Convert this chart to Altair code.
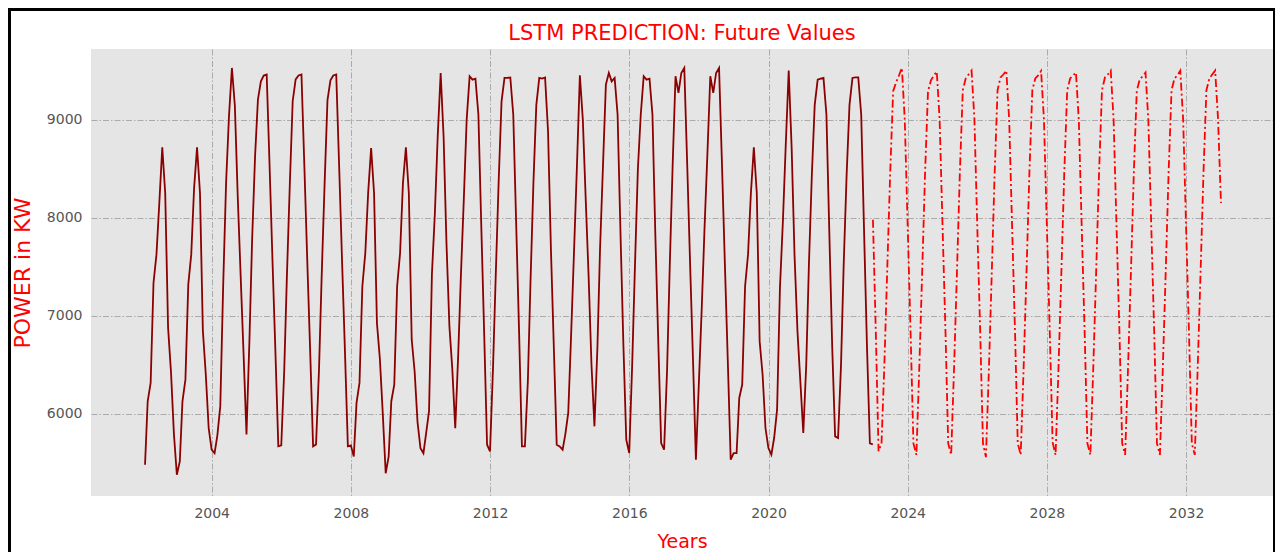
import altair as alt
import pandas as pd

# ---------------- data ----------------
# Historical monthly power values, Jan..Dec of each year
hist_2002 = [5483, 6129, 6316, 7335, 7624, 8150, 8718, 8250, 6880, 6420, 5800, 5381]
hist_2003 = [5517, 6129, 6350, 7318, 7624, 8300, 8718, 8250, 6850, 6400, 5857, 5637]
hist_2004 = [5600, 5780, 6080, 7300, 8360, 9030, 9527, 9140, 8220, 7400, 6620, 5790]
hist_2005 = [6756, 7776, 8626, 9204, 9391, 9449, 9459, 8510, 7560, 6620, 5670, 5680]
hist_2006 = [6440, 7400, 8350, 9190, 9410, 9450, 9460, 8510, 7560, 6620, 5670, 5690]
hist_2007 = [6450, 7400, 8350, 9200, 9400, 9450, 9460, 8510, 7560, 6620, 5670, 5680]
hist_2008 = [5566, 6113, 6317, 7300, 7640, 8255, 8711, 8252, 6929, 6560, 6011, 5396]
hist_2009 = [5566, 6130, 6300, 7300, 7640, 8350, 8718, 8250, 6760, 6430, 5920, 5650]
hist_2010 = [5600, 5800, 6030, 7420, 8040, 8830, 9476, 8820, 7740, 6890, 6460, 5855]
hist_2011 = [6600, 7400, 8190, 9000, 9442, 9408, 9418, 9050, 7930, 6810, 5687, 5619]
hist_2012 = [6458, 7410, 8378, 9187, 9425, 9425, 9430, 9050, 7960, 6840, 5670, 5670]
hist_2013 = [6330, 7350, 8370, 9150, 9425, 9418, 9430, 8880, 7690, 6670, 5687, 5670]
hist_2014 = [5636, 5790, 6010, 6800, 7665, 8520, 9452, 9000, 8200, 7400, 6500, 5874]
hist_2015 = [6670, 7690, 8540, 9357, 9476, 9390, 9425, 9050, 7860, 6700, 5738, 5602]
hist_2016 = [6500, 7500, 8500, 9050, 9442, 9408, 9418, 9050, 7830, 6740, 5704, 5636]
hist_2017 = [6435, 7490, 8540, 9442, 9272, 9476, 9527, 8530, 7530, 6530, 5534, 6315]
hist_2018 = [7100, 7880, 8660, 9442, 9272, 9476, 9527, 8530, 7530, 6530, 5534, 5602]
hist_2019 = [5602, 6163, 6300, 7300, 7624, 8250, 8718, 8250, 6740, 6400, 5857, 5653]
hist_2020 = [5585, 5755, 6044, 7284, 7964, 8745, 9500, 8710, 7620, 6842, 6333, 5806]
hist_2021 = [6500, 7520, 8440, 9150, 9408, 9418, 9425, 9050, 7860, 6670, 5772, 5755]
hist_2022 = [6500, 7520, 8440, 9150, 9425, 9430, 9430, 9050, 7860, 6670, 5700, 5690]

# LSTM future predictions, Jan..Dec of each year (+ Jan 2033)
pred_2023 = [7980, 6800, 5620, 5700, 6500, 7500, 8450, 9290, 9380, 9450, 9527, 9000]
pred_2024 = [7900, 6800, 5700, 5583, 6450, 7450, 8450, 9290, 9400, 9450, 9490, 9000]
pred_2025 = [7900, 6820, 5700, 5583, 6450, 7450, 8450, 9300, 9420, 9460, 9500, 9010]
pred_2026 = [7880, 6800, 5700, 5560, 6420, 7430, 8440, 9300, 9430, 9460, 9500, 9000]
pred_2027 = [7900, 6810, 5700, 5583, 6450, 7450, 8450, 9300, 9420, 9450, 9495, 9000]
pred_2028 = [7900, 6800, 5710, 5583, 6450, 7450, 8450, 9300, 9420, 9450, 9480, 8990]
pred_2029 = [7880, 6800, 5700, 5583, 6450, 7450, 8450, 9300, 9430, 9460, 9500, 9000]
pred_2030 = [7900, 6810, 5700, 5583, 6450, 7450, 8450, 9290, 9410, 9440, 9480, 8990]
pred_2031 = [7890, 6800, 5700, 5583, 6450, 7450, 8450, 9300, 9420, 9450, 9500, 9000]
pred_2032 = [7900, 6800, 5700, 5583, 6450, 7450, 8450, 9300, 9420, 9460, 9500, 9010]
pred_2033 = [8150]

x_tick_years = [2004, 2008, 2012, 2016, 2020, 2024, 2028, 2032]
y_tick_values = [6000, 7000, 8000, 9000]

title_text = "LSTM PREDICTION: Future Values"
x_title = "Years"
y_title = "POWER in KW"

# ---------------- tables ----------------
hist_values = (hist_2002 + hist_2003 + hist_2004 + hist_2005 + hist_2006 + hist_2007 +
               hist_2008 + hist_2009 + hist_2010 + hist_2011 + hist_2012 + hist_2013 +
               hist_2014 + hist_2015 + hist_2016 + hist_2017 + hist_2018 + hist_2019 +
               hist_2020 + hist_2021 + hist_2022)
pred_values = (pred_2023 + pred_2024 + pred_2025 + pred_2026 + pred_2027 + pred_2028 +
               pred_2029 + pred_2030 + pred_2031 + pred_2032 + pred_2033)

hist_dates = pd.date_range("2002-01-31", periods=len(hist_values), freq="ME").strftime("%Y-%m-%d")
pred_dates = pd.date_range("2023-01-01", periods=len(pred_values), freq="MS").strftime("%Y-%m-%d")

hist_df = pd.DataFrame({"date": list(hist_dates), "power": hist_values})
pred_df = pd.DataFrame({"date": list(pred_dates), "power": pred_values})

FONT = "DejaVu Sans"
W, H = 1182, 447

x_scale = alt.Scale(type="utc",
                    domain=[alt.DateTime(year=2000, month=7, date=13, utc=True),
                            alt.DateTime(year=2034, month=7, date=1, utc=True)])
y_scale = alt.Scale(domain=[5164, 9720], nice=False, zero=False)

x_axis = alt.Axis(values=[alt.DateTime(year=y, utc=True) for y in x_tick_years],
                  format="%Y", formatType="time", labelPadding=10,
                  title=x_title, titleColor="red", titleFont=FONT, titleFontSize=19,
                  titleFontWeight="normal", titleX=W / 2, titleY=51,
                  titleBaseline="alphabetic", titleAlign="center")
y_axis = alt.Axis(values=y_tick_values, format="d", labelPadding=9,
                  title=y_title, titleColor="red", titleFont=FONT, titleFontSize=22,
                  titleFontWeight="normal", titleX=-69, titleY=H / 2,
                  titleAlign="center", titleBaseline="middle", titleAngle=270)

hist_line = alt.Chart(hist_df).mark_line(color="#8B0000", strokeWidth=1.8).encode(
    x=alt.X("date:T", scale=x_scale, axis=x_axis),
    y=alt.Y("power:Q", scale=y_scale, axis=y_axis),
)
pred_line = alt.Chart(pred_df).mark_line(color="#FF0000", strokeWidth=1.8,
                                         strokeDash=[8, 3, 2, 3]).encode(
    x=alt.X("date:T", scale=x_scale),
    y=alt.Y("power:Q", scale=y_scale),
)

# chart title as a text mark above the plot area
one_row = pd.DataFrame({"k": [0]})
title_mark = alt.Chart(one_row).mark_text(
    text=title_text, color="red", font=FONT, fontSize=21, align="center",
    baseline="alphabetic").encode(x=alt.value(W / 2), y=alt.value(-9))

# figure frame (black border of the original screenshot)
frame_top = alt.Chart(one_row).mark_rule(color="black", strokeWidth=3).encode(
    x=alt.value(-83), x2=alt.value(W + 2), y=alt.value(-39.5))
frame_left = alt.Chart(one_row).mark_rule(color="black", strokeWidth=3).encode(
    x=alt.value(-81.5), y=alt.value(-41), y2=alt.value(H + 60))
frame_right = alt.Chart(one_row).mark_rule(color="black", strokeWidth=2).encode(
    x=alt.value(W + 1), y=alt.value(-41), y2=alt.value(H + 60))

chart = alt.layer(hist_line, pred_line, title_mark, frame_top, frame_left,
                  frame_right).properties(
    width=W, height=H,
    padding={"left": 83, "top": 41, "right": 2, "bottom": 56},
    autosize=alt.AutoSizeParams(type="none"),
    background="white",
).configure_view(
    fill="#E5E5E5", strokeWidth=0
).configure_axis(
    grid=True, gridColor="#ababab", gridDash=[6, 2, 1.5, 2], gridWidth=1,
    domain=False, ticks=False,
    labelColor="#555555", labelFont=FONT, labelFontSize=14,
)

chart.save("out.html", embed_options={"renderer": "svg", "actions": False})
